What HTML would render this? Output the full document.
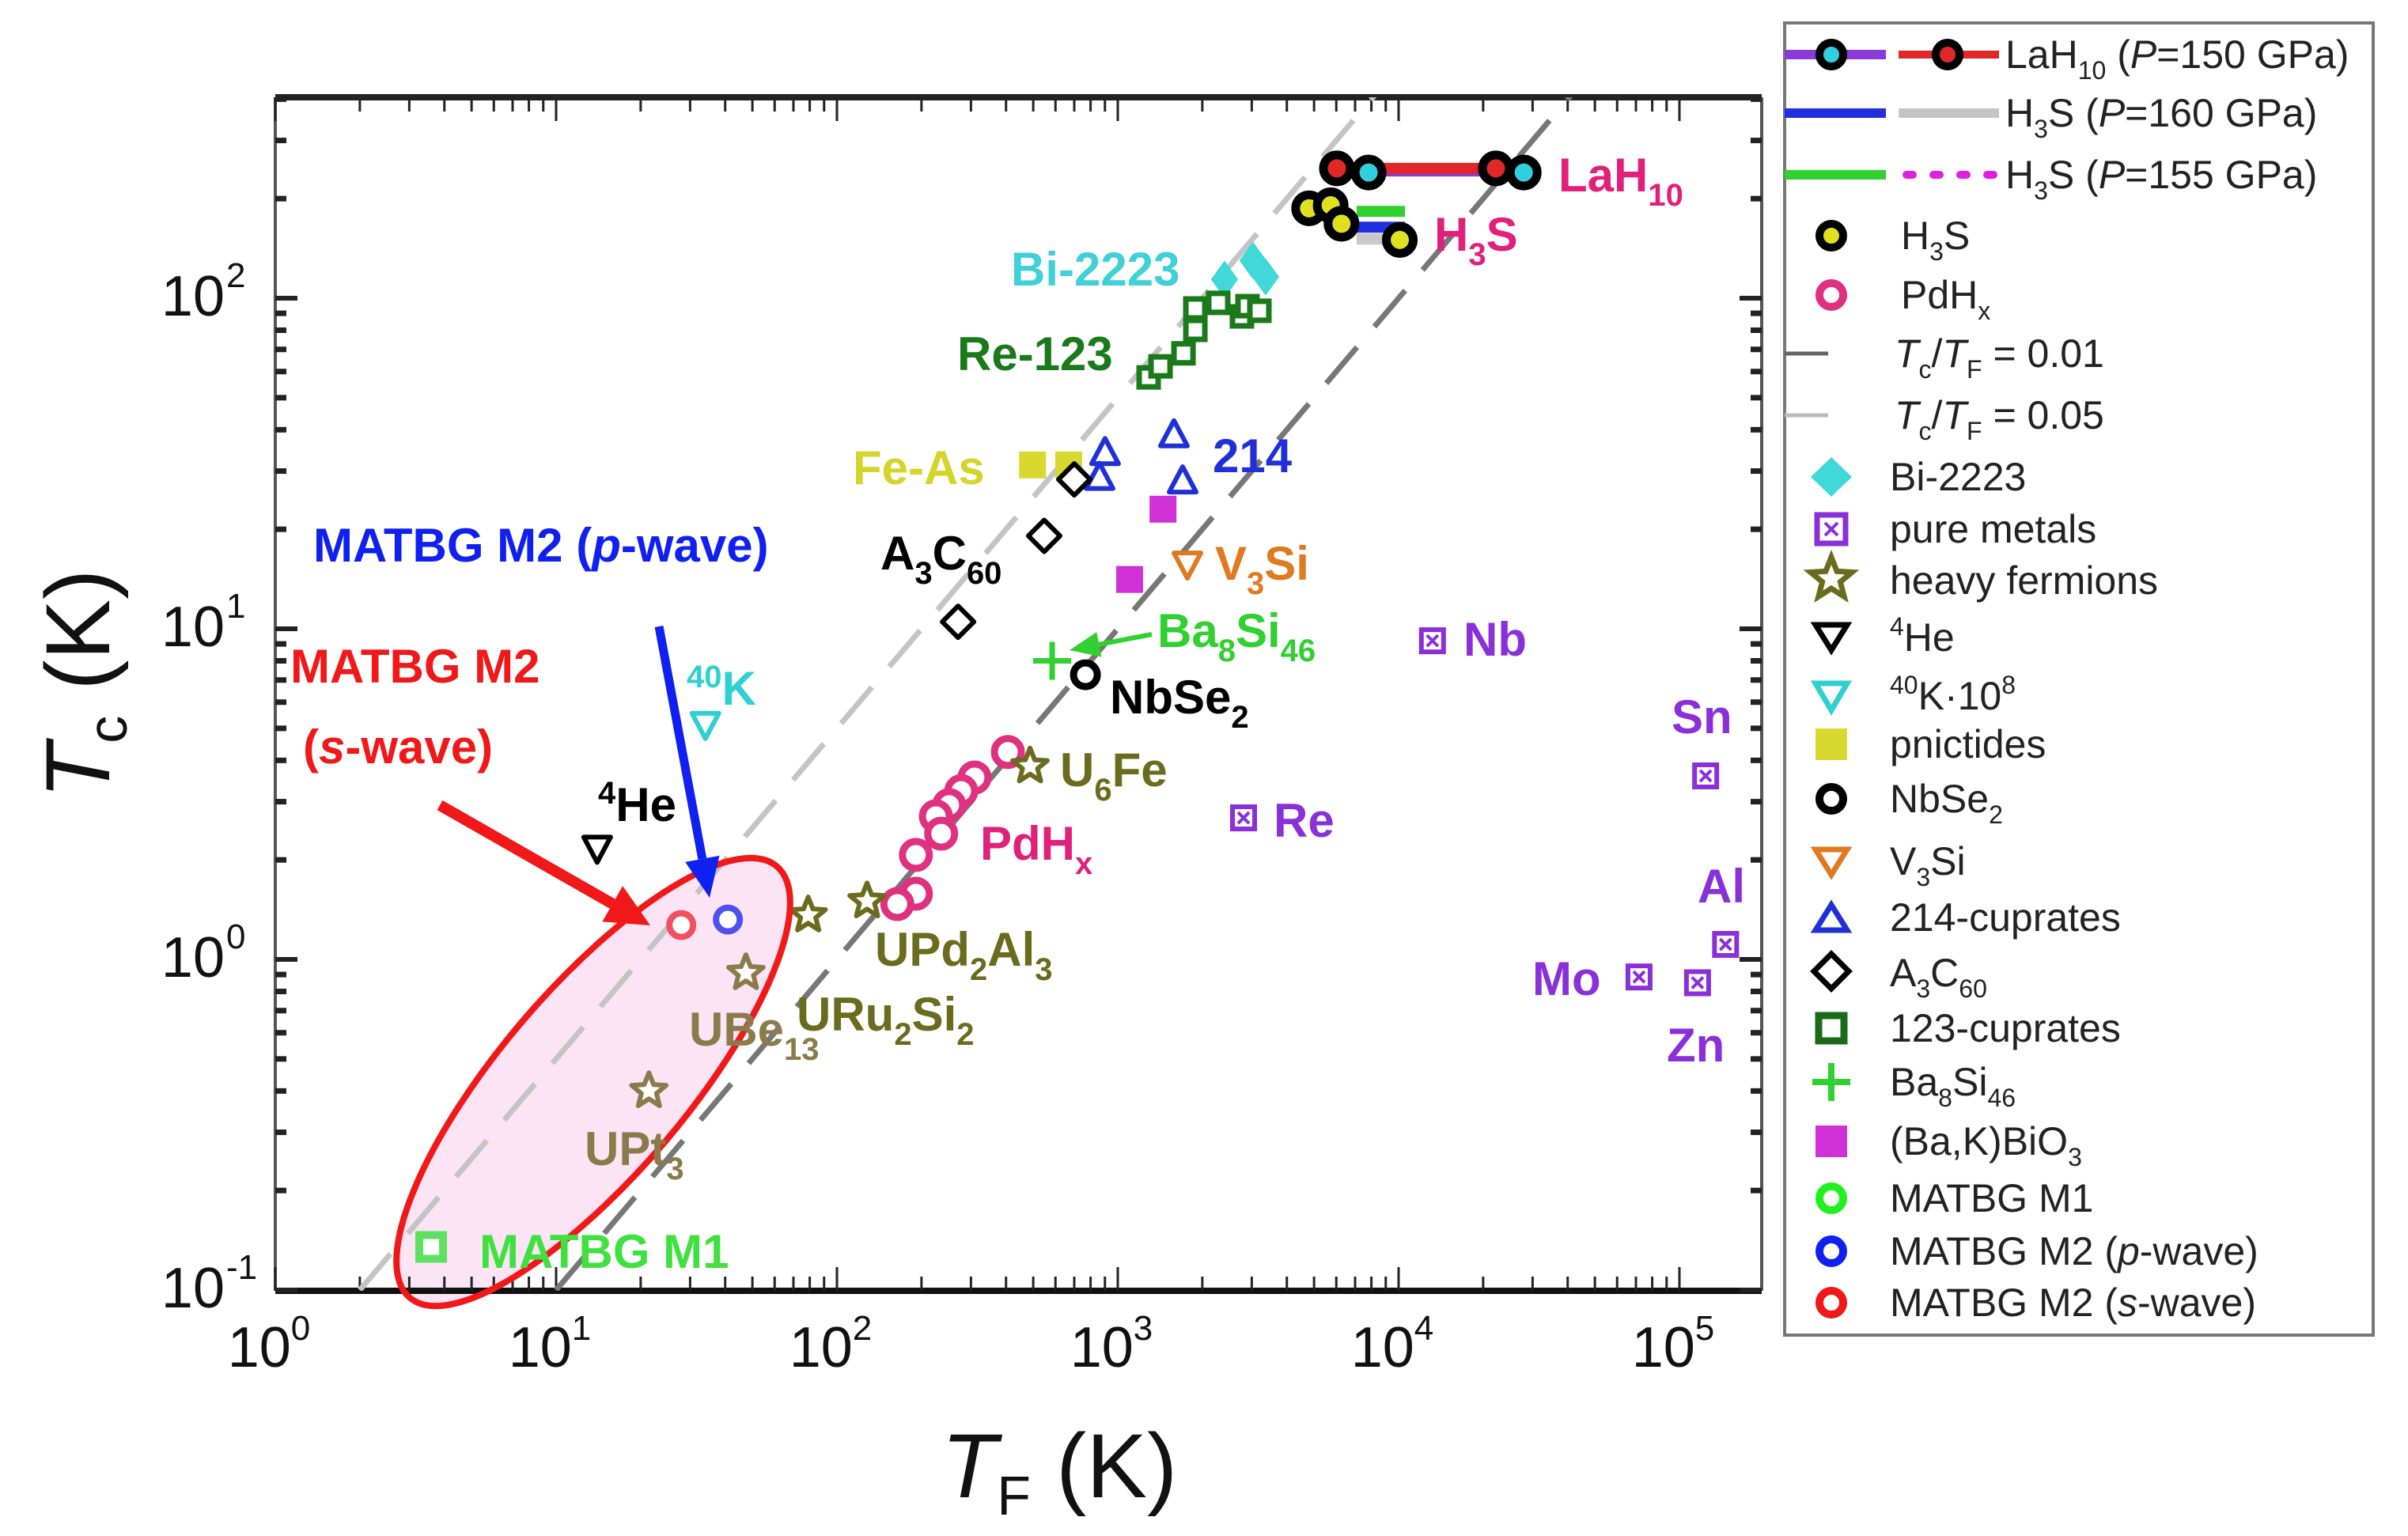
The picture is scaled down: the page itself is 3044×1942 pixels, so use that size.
<!DOCTYPE html>
<html><head><meta charset="utf-8"><style>
html,body{margin:0;padding:0;background:#fff;width:3044px;height:1942px;overflow:hidden;}
svg{display:block;font-family:"Liberation Sans",Arial,sans-serif;}
</style></head><body>
<svg id="chart" width="3044" height="1942" viewBox="0 0 3044 1942" xmlns="http://www.w3.org/2000/svg">
<defs><clipPath id="plotclip"><rect x="348" y="123" width="1879" height="1509"/></clipPath></defs>
<g id="plot"></g>
</svg>
<script>
// ---- data (TF in K, Tc in K) ----
const lahRedTF=[6030,22200], lahRedTc=[247,247];
const lahPurTF=[7820,27900], lahPurTc=[240,240];
const h3sTF=[4800,5730,6260,10100], h3sTc=[187,191,168,150];
const h3sLineTF=[7090,10540]; const h3sGreenTc=183, h3sBlueTc=164, h3sGrayTc=151;
const biTF=[2400,3030,3360], biTc=[114,130,116];
const c123TF=[1288,1420,1714,1889,1889,2279,2768,2897,3193], c123Tc=[57.6,62.2,68.1,80.2,93.1,96.8,88.1,94.6,91.6];
const c214TF=[901,861,1585,1702], c214Tc=[34.1,28.7,38.6,28];
const pnTF=[497,669], pnTc=[31.3,31.3];
const a3TF=[700,547,270], a3Tc=[28.3,19.1,10.5];
const bakTF=[1449,1102], bakTc=[23,14.1];
const v3TF=[1770], v3Tc=[15.7];
const baSiTF=[584], baSiTc=[8.0];
const nbseTF=[767], nbseTc=[7.26];
const kTF=[34], kTc=[5.14];
const heTF=[14], heTc=[2.17];
const pdTF=[406,309,277,251,225,235,191,191,164], pdTc=[4.24,3.55,3.23,2.93,2.71,2.40,2.07,1.58,1.47];
const hfTF=[487,128,79], hfTc=[3.84,1.50,1.36];
const hf2TF=[47.4,21.4], hf2Tc=[0.91,0.40];
const metTF=[13200,2805,124000,146000,71800,116000], metTc=[9.2,2.68,3.59,1.11,0.885,0.85];
const m1TF=[3.59], m1Tc=[0.135];
const m2pTF=[40.9], m2pTc=[1.32];
const m2sTF=[27.9], m2sTc=[1.27];
const guideRatios=[0.01,0.05];
const xTickExp=[0,1,2,3,4,5];
const yTickExp=[-1,0,1,2];

const NS="http://www.w3.org/2000/svg";
const X=v=>348+355*Math.log10(v);
const Y=v=>377+418*(2-Math.log10(v));
const plot=document.getElementById('plot');
function el(tag,attrs,parent){const e=document.createElementNS(NS,tag);for(const k in attrs)e.setAttribute(k,attrs[k]);(parent||plot).appendChild(e);return e;}

const ell=el('ellipse',{cx:750,cy:1368,rx:358,ry:118,transform:'rotate(-49.6 750 1368)',fill:'#fce4f5',stroke:'none'});



const frame=el('g',{});


el('line',{x1:348,y1:123,x2:2227,y2:123,stroke:'#222','stroke-width':8},frame);
el('line',{x1:348,y1:1632,x2:2227,y2:1632,stroke:'#111','stroke-width':8},frame);
el('line',{x1:348,y1:123,x2:348,y2:1632,stroke:'#555','stroke-width':4},frame);
el('line',{x1:2227,y1:123,x2:2227,y2:1632,stroke:'#555','stroke-width':4},frame);
const ticks=el('g',{stroke:'#222','stroke-width':3});


for(let e=0;e<=5;e++){for(let m=1;m<10;m++){const v=m*Math.pow(10,e);const x=X(v);if(x>2225)continue;const L=m==1?30:18;
 el('line',{x1:x,y1:1632,x2:x,y2:1632-L},ticks);el('line',{x1:x,y1:123,x2:x,y2:123+L},ticks);}}
for(let e=-1;e<=2;e++){for(let m=1;m<10;m++){const v=m*Math.pow(10,e);const y=Y(v);if(y<125)continue;const L=m==1?28:14;
 el('line',{x1:348,y1:y,x2:348+L,y2:y,'stroke-width':m==1?6:7},ticks);el('line',{x1:2227,y1:y,x2:2227-L,y2:y,'stroke-width':m==1?6:7},ticks);}}
xTickExp.forEach(e=>{const t=el('text',{x:X(Math.pow(10,e))-8,y:1728,'font-size':72,fill:'#111','text-anchor':'middle'});
 
 
 t.innerHTML='10<tspan dy="-34" font-size="44">'+e+'</tspan>';});
yTickExp.forEach(e=>{const t=el('text',{x:284,y:Y(Math.pow(10,e))+22,'font-size':72,fill:'#111','text-anchor':'end'});
 
 
 t.textContent='10';const s=el('text',{x:286,y:Y(Math.pow(10,e))-14,'font-size':44,fill:'#111'});
 
 
 s.textContent=String(e);});
const xt=el('text',{x:1190,y:1893,'font-size':115,fill:'#111'});


xt.innerHTML='<tspan font-style="italic">T</tspan><tspan font-size="70" dy="22">F</tspan><tspan dy="-22"> (K)</tspan>';
const yt=el('text',{x:0,y:0,'font-size':115,fill:'#111',transform:'translate(138,1010) rotate(-90)'});


yt.innerHTML='<tspan font-style="italic">T</tspan><tspan font-size="70" dy="22">c</tspan><tspan dy="-22"> (K)</tspan>';

const clip=el('g',{'clip-path':'url(#plotclip)'});


guideRatios.forEach((r,i)=>{const a=0.1/r,b=500/r;const g=el('line',{x1:X(a),y1:Y(a*r),x2:X(b),y2:Y(b*r),stroke:i==0?'#777':'#c4c4c4','stroke-width':7,'stroke-dasharray':'60 34'},clip);
 
 });

function series(name){const g=el('g',{},clip);return g;}
function circ(g,xs,ys,stroke,fill,r,sw){xs.forEach((v,i)=>{const c=el('circle',{cx:X(v),cy:Y(ys[i]),r:r,fill:fill,stroke:stroke,'stroke-width':sw},g);
 
 });}
function sq(g,xs,ys,stroke,fill,s,sw){xs.forEach((v,i)=>{const c=el('rect',{x:X(v)-s/2,y:Y(ys[i])-s/2,width:s,height:s,fill:fill,stroke:stroke,'stroke-width':sw},g);
 
 });}
function poly(g,xs,ys,pts,stroke,fill,sw){xs.forEach((v,i)=>{const cx=X(v),cy=Y(ys[i]);const c=el('polygon',{points:pts.map(p=>(cx+p[0])+','+(cy+p[1])).join(' '),fill:fill,stroke:stroke,'stroke-width':sw,'stroke-linejoin':'round'},g);
 
 });}
const triUp=[[0,-18],[17,14],[-17,14]], triDn=[[0,18],[17,-14],[-17,-14]], dia=[[0,-20],[20,0],[0,20],[-20,0]];
const star=[];for(let k=0;k<10;k++){const a=-Math.PI/2+k*Math.PI/5,rr=k%2?10:23;star.push([rr*Math.cos(a),rr*Math.sin(a)]);}

let g=series('lah10-lines');
let l=el('line',{x1:X(lahPurTF[0]),y1:Y(lahPurTc[0]),x2:X(lahPurTF[1]),y2:Y(lahPurTc[1]),stroke:'#8a3ad8','stroke-width':10},g);

l=el('line',{x1:X(lahRedTF[0]),y1:Y(lahRedTc[0]),x2:X(lahRedTF[1]),y2:Y(lahRedTc[1]),stroke:'#e02828','stroke-width':14},g);

g=series('h3s-lines');
[[h3sGrayTc,'#c8c8c8'],[h3sBlueTc,'#2030e0'],[h3sGreenTc,'#30d030']].forEach(p=>{const q=el('line',{x1:X(h3sLineTF[0]),y1:Y(p[0]),x2:X(h3sLineTF[1]),y2:Y(p[0]),stroke:p[1],'stroke-width':14},g);
 });
g=series('lah10-points');circ(g,lahPurTF,lahPurTc,'#000','#30d0e0',17,11);circ(g,lahRedTF,lahRedTc,'#000','#e02828',17,11);
g=series('h3s-points');circ(g,h3sTF,h3sTc,'#000','#e0e020',17,11);
g=series('bi2223-points');poly(g,biTF,biTc,[[0,-22],[16,0],[0,22],[-16,0]],'#40d8d8','#40d8d8',2);
g=series('cuprate123-points');sq(g,c123TF,c123Tc,'#1a7a1a','#fff',24,7);
g=series('cuprate214-points');poly(g,c214TF,c214Tc,triUp,'#2030d8','#fff',6);
g=series('pnictide-points');sq(g,pnTF,pnTc,'none','#d8d830',34,0);
g=series('a3c60-points');poly(g,a3TF,a3Tc,dia,'#000','#fff',6);
g=series('bakbio3-points');sq(g,bakTF,bakTc,'none','#d030d8',34,0);
g=series('v3si-points');poly(g,v3TF,v3Tc,triDn,'#e07a20','#fff',6);
g=series('nbse2-points');circ(g,nbseTF,nbseTc,'#000','#fff',15,9);
g=series('ba8si46-points');baSiTF.forEach((v,i)=>{const cx=X(v),cy=Y(baSiTc[i]);const p=el('path',{d:`M${cx-24},${cy}H${cx+24}M${cx},${cy-24}V${cy+24}`,stroke:'#30d030','stroke-width':7},g);
 });
g=series('k40-points');poly(g,kTF,kTc,triDn,'#30d0d0','#fff',6);
g=series('he4-points');poly(g,heTF,heTc,triDn,'#000','#fff',6);
g=series('pdhx-points');circ(g,pdTF,pdTc,'#e03080','#fff',17,9);
g=series('heavy-fermion-points');poly(g,hfTF,hfTc,star,'#6b6b1e','#fff',6);
g=series('heavy-fermion-points-2');poly(g,hf2TF,hf2Tc,star,'#8b7b4b','#fff',6);
g=series('pure-metal-points');metTF.forEach((v,i)=>{const cx=X(v),cy=Y(metTc[i]);
 const r=el('rect',{x:cx-14,y:cy-14,width:28,height:28,fill:'#fff',stroke:'#8a30d8','stroke-width':6},g);
 
 const p=el('path',{d:`M${cx-7},${cy-7}L${cx+7},${cy+7}M${cx+7},${cy-7}L${cx-7},${cy+7}`,stroke:'#8a30d8','stroke-width':4},g);
 });
g=series('matbg-m1-points');sq(g,m1TF,m1Tc,'#60e060','#fff',30,10);
g=series('matbg-m2-p-points');circ(g,m2pTF,m2pTc,'#5050f0','#fff',15,8);
g=series('matbg-m2-s-points');circ(g,m2sTF,m2sTc,'#f05060','#fff',15,8);
const eo=el('ellipse',{cx:750,cy:1368,rx:358,ry:118,transform:'rotate(-49.6 750 1368)',fill:'none',stroke:'#f01818','stroke-width':8});



function arrow(name,x1,y1,x2,y2,color,w,hl,hw){const a=Math.atan2(y2-y1,x2-x1);const bx=x2-hl*Math.cos(a),by=y2-hl*Math.sin(a);
 const gg=el('g',{});
 el('line',{x1:x1,y1:y1,x2:bx,y2:by,stroke:color,'stroke-width':w},gg);
 const px=-Math.sin(a)*hw,py=Math.cos(a)*hw;
 el('polygon',{points:`${x2},${y2} ${bx+px},${by+py} ${bx-px},${by-py}`,fill:color},gg);}
arrow('red-arrow',556,1018,822,1170,'#f01818',14,55,26);
arrow('blue-arrow',833,792,897,1135,'#1020f0',11,50,22);
arrow('green-arrow',1456,802,1352,822,'#30d030',6,38,16);

const labels=[
['label-lah10',1970,242,'#e0207a','LaH<tspan font-size="40" dy="18">10</tspan>'],
['label-h3s',1813,317,'#e0207a','H<tspan font-size="40" dy="18">3</tspan><tspan dy="-18">S</tspan>'],
['label-bi2223',1278,361,'#40d0d8','Bi-2223'],
['label-re123',1210,468,'#1a7a1a','Re-123'],
['label-feas',1078,612,'#d4d42a','Fe-As'],
['label-214',1533,597,'#2030d8','214'],
['label-a3c60',1113,720,'#000','A<tspan font-size="40" dy="18">3</tspan><tspan dy="-18">C</tspan><tspan font-size="40" dy="18">60</tspan>'],
['label-v3si',1536,733,'#e07a20','V<tspan font-size="40" dy="18">3</tspan><tspan dy="-18">Si</tspan>'],
['label-ba8si46',1463,818,'#30d030','Ba<tspan font-size="40" dy="18">8</tspan><tspan dy="-18">Si</tspan><tspan font-size="40" dy="18">46</tspan>'],
['label-nbse2',1403,902,'#000','NbSe<tspan font-size="40" dy="18">2</tspan>'],
['label-40k',868,891,'#30d0d0','<tspan font-size="40" dy="-22">40</tspan><tspan dy="22">K</tspan>'],
['label-u6fe',1340,994,'#6b6b1e','U<tspan font-size="40" dy="18">6</tspan><tspan dy="-18">Fe</tspan>'],
['label-4he',756,1038,'#000','<tspan font-size="40" dy="-22">4</tspan><tspan dy="22">He</tspan>'],
['label-pdhx',1239,1087,'#e0207a','PdH<tspan font-size="40" dy="18">x</tspan>'],
['label-re',1610,1058,'#8a30d8','Re'],
['label-nb',1850,829,'#8a30d8','Nb'],
['label-sn',2113,927,'#8a30d8','Sn'],
['label-al',2146,1141,'#8a30d8','Al'],
['label-mo',1937,1258,'#8a30d8','Mo'],
['label-zn',2107,1342,'#8a30d8','Zn'],
['label-upd2al3',1106,1221,'#6b6b1e','UPd<tspan font-size="40" dy="18">2</tspan><tspan dy="-18">Al</tspan><tspan font-size="40" dy="18">3</tspan>'],
['label-uru2si2',1007,1303,'#6b6b1e','URu<tspan font-size="40" dy="18">2</tspan><tspan dy="-18">Si</tspan><tspan font-size="40" dy="18">2</tspan>'],
['label-ube13',871,1322,'#8b7b4b','UBe<tspan font-size="40" dy="18">13</tspan>'],
['label-upt3',739,1473,'#8b7b4b','UPt<tspan font-size="40" dy="18">3</tspan>'],
['label-matbg-m1',606,1603,'#40e040','MATBG M1'],
['label-matbg-m2-p',396,710,'#1020f0','MATBG M2 (<tspan font-style="italic">p</tspan>-wave)'],
['label-matbg-m2-s',367,863,'#f01818','MATBG M2'],
['label-matbg-m2-s2',383,965,'#f01818','(<tspan font-style="italic">s</tspan>-wave)']
];
labels.forEach(L=>{const t=el('text',{x:L[1],y:L[2],fill:L[3],'font-size':60,'font-weight':'bold'});
 
 
 t.innerHTML=L[4];});

const lg=el('g',{},document.getElementById('chart'));


el('rect',{x:2256,y:29,width:744,height:1659,fill:'#fff',stroke:'#777','stroke-width':4},lg);
function ltext(y,html,x){const t=el('text',{x:x||2389,y:y+17,'font-size':50,fill:'#222'},lg);
 
 
 t.innerHTML=html;}
const lx=2315;
el('line',{x1:2256,y1:69,x2:2384,y2:69,stroke:'#8a3ad8','stroke-width':12},lg);
el('circle',{cx:2315,cy:69,r:15,fill:'#30d0e0',stroke:'#000','stroke-width':10},lg);
el('line',{x1:2400,y1:69,x2:2527,y2:69,stroke:'#e02828','stroke-width':10},lg);
el('circle',{cx:2462,cy:69,r:15,fill:'#e02828',stroke:'#000','stroke-width':10},lg);
ltext(69,'LaH<tspan font-size="32" dy="14">10</tspan><tspan dy="-14"> (</tspan><tspan font-style="italic">P</tspan>=150 GPa)',2535);
el('line',{x1:2256,y1:143,x2:2384,y2:143,stroke:'#2030e0','stroke-width':12},lg);
el('line',{x1:2400,y1:143,x2:2527,y2:143,stroke:'#c4c4c4','stroke-width':12},lg);
ltext(143,'H<tspan font-size="32" dy="14">3</tspan><tspan dy="-14">S (</tspan><tspan font-style="italic">P</tspan>=160 GPa)',2535);
el('line',{x1:2256,y1:221,x2:2384,y2:221,stroke:'#30d030','stroke-width':12},lg);
el('line',{x1:2410,y1:221,x2:2527,y2:221,stroke:'#e020e0','stroke-width':10,'stroke-dasharray':'8 26','stroke-linecap':'round'},lg);
ltext(221,'H<tspan font-size="32" dy="14">3</tspan><tspan dy="-14">S (</tspan><tspan font-style="italic">P</tspan>=155 GPa)',2535);
el('circle',{cx:lx,cy:298,r:15,fill:'#e0e020',stroke:'#000','stroke-width':10},lg);ltext(298,'H<tspan font-size="32" dy="14">3</tspan><tspan dy="-14">S</tspan>',2403);
el('circle',{cx:lx,cy:373,r:15,fill:'#fff',stroke:'#e03080','stroke-width':10},lg);ltext(373,'PdH<tspan font-size="32" dy="14">x</tspan>',2403);
el('line',{x1:2256,y1:447,x2:2311,y2:447,stroke:'#666','stroke-width':5},lg);ltext(447,'<tspan font-style="italic">T</tspan><tspan font-size="32" dy="14">c</tspan><tspan dy="-14">/</tspan><tspan font-style="italic">T</tspan><tspan font-size="32" dy="14">F</tspan><tspan dy="-14"> = 0.01</tspan>',2395);
el('line',{x1:2256,y1:525,x2:2311,y2:525,stroke:'#bbb','stroke-width':5},lg);ltext(525,'<tspan font-style="italic">T</tspan><tspan font-size="32" dy="14">c</tspan><tspan dy="-14">/</tspan><tspan font-style="italic">T</tspan><tspan font-size="32" dy="14">F</tspan><tspan dy="-14"> = 0.05</tspan>',2395);
el('polygon',{points:`${lx},578 ${lx+26},603 ${lx},628 ${lx-26},603`,fill:'#40d8d8'},lg);ltext(603,'Bi-2223');
el('rect',{x:lx-18,y:651,width:36,height:36,fill:'#fff',stroke:'#8a30d8','stroke-width':7},lg);
el('path',{d:`M${lx-8},661L${lx+8},677M${lx+8},661L${lx-8},677`,stroke:'#8a30d8','stroke-width':4},lg);ltext(669,'pure metals');
el('polygon',{points:star.map(p=>(lx+p[0]*1.2)+','+(732+p[1]*1.2)).join(' '),fill:'#fff',stroke:'#6b6b1e','stroke-width':7},lg);ltext(734,'heavy fermions');
el('polygon',{points:`${lx-20},790 ${lx+20},790 ${lx},822`,fill:'#fff',stroke:'#000','stroke-width':7},lg);ltext(806,'<tspan font-size="32" dy="-20">4</tspan><tspan dy="20">He</tspan>');
el('polygon',{points:`${lx-20},864 ${lx+20},864 ${lx},898`,fill:'#fff',stroke:'#30d0d0','stroke-width':7},lg);ltext(880,'<tspan font-size="32" dy="-20">40</tspan><tspan dy="20">K·10</tspan><tspan font-size="32" dy="-20">8</tspan>');
el('rect',{x:lx-20,y:921,width:40,height:40,fill:'#d8d830'},lg);ltext(941,'pnictides');
el('circle',{cx:lx,cy:1010,r:15,fill:'#fff',stroke:'#000','stroke-width':10},lg);ltext(1010,'NbSe<tspan font-size="32" dy="14">2</tspan>');
el('polygon',{points:`${lx-20},1074 ${lx+20},1074 ${lx},1106`,fill:'#fff',stroke:'#e07a20','stroke-width':7},lg);ltext(1089,'V<tspan font-size="32" dy="14">3</tspan><tspan dy="-14">Si</tspan>');
el('polygon',{points:`${lx-20},1176 ${lx+20},1176 ${lx},1144`,fill:'#fff',stroke:'#2030d8','stroke-width':7},lg);ltext(1160,'214-cuprates');
el('polygon',{points:`${lx},1206 ${lx+22},1228 ${lx},1250 ${lx-22},1228`,fill:'#fff',stroke:'#000','stroke-width':7},lg);ltext(1230,'A<tspan font-size="32" dy="14">3</tspan><tspan dy="-14">C</tspan><tspan font-size="32" dy="14">60</tspan>');
el('rect',{x:lx-16,y:1284,width:32,height:32,fill:'#fff',stroke:'#1a6a1a','stroke-width':9},lg);ltext(1300,'123-cuprates');
el('path',{d:`M${lx-24},1368H${lx+24}M${lx},1344V1392`,stroke:'#30d030','stroke-width':8},lg);ltext(1368,'Ba<tspan font-size="32" dy="14">8</tspan><tspan dy="-14">Si</tspan><tspan font-size="32" dy="14">46</tspan>');
el('rect',{x:lx-20,y:1423,width:40,height:40,fill:'#d030d8'},lg);ltext(1443,'(Ba,K)BiO<tspan font-size="32" dy="14">3</tspan>');
el('circle',{cx:lx,cy:1515,r:15,fill:'#fff',stroke:'#20f020','stroke-width':10},lg);ltext(1515,'MATBG M1');
el('circle',{cx:lx,cy:1582,r:15,fill:'#fff',stroke:'#1020f0','stroke-width':10},lg);ltext(1582,'MATBG M2 (<tspan font-style="italic">p</tspan>-wave)');
el('circle',{cx:lx,cy:1647,r:15,fill:'#fff',stroke:'#f01818','stroke-width':10},lg);ltext(1647,'MATBG M2 (<tspan font-style="italic">s</tspan>-wave)');
</script>
</body></html>
